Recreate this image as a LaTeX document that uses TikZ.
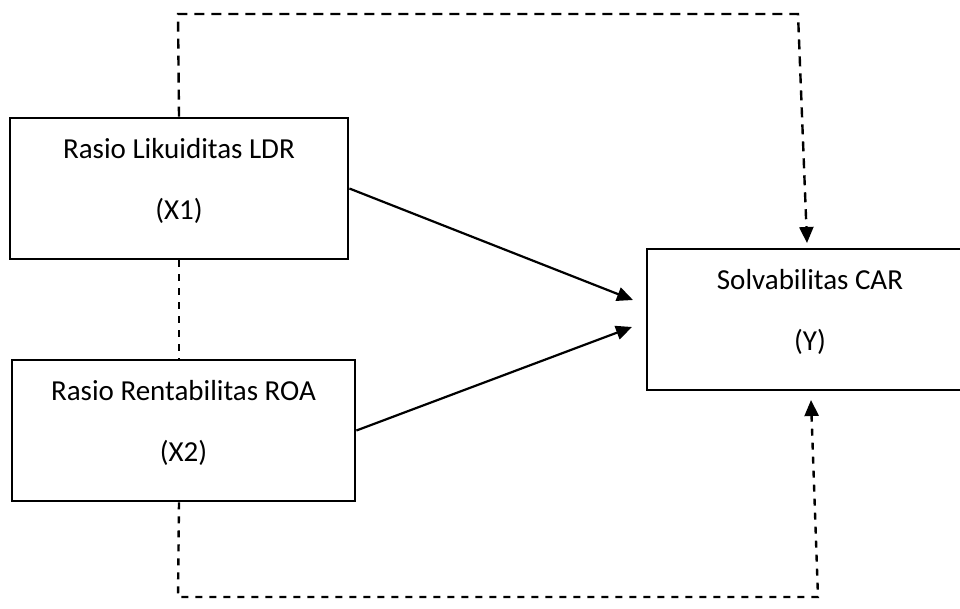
\documentclass[tikz,border=0pt]{standalone}
\usepackage{fontspec}
\setmainfont{Carlito}
\usetikzlibrary{arrows.meta}

\begin{document}
\begin{tikzpicture}[x=1pt,y=-1pt,
	varbox/.style={draw,line width=2.8pt,rectangle,minimum height=141pt,align=center,text depth=19pt,font=\fontsize{29}{61}\selectfont},
	link/.style={line width=2.2pt,-{Triangle[length=16pt,width=14pt]}},
	dashlink/.style={line width=2.4pt,dash pattern=on 10pt off 7pt,-{Triangle[length=16pt,width=14pt]}},
	dashplain/.style={line width=2.4pt,dash pattern=on 7pt off 7pt}]
	\useasboundingbox (0,0) rectangle (960,608);
	\node[varbox,minimum width=338pt] (x1) at (179,188.5) {Rasio Likuiditas LDR\\(X1)};
	\node[varbox,minimum width=343pt] (x2) at (183.5,430.5) {Rasio Rentabilitas ROA\\(X2)};
	\node[varbox,minimum width=326pt] (y) at (810,319.5) {Solvabilitas CAR\\(Y)};
	\coordinate (t1) at (633,300);
	\coordinate (t2) at (632,327);
	\coordinate (a1) at (178,14);
	\coordinate (a2) at (798,14);
	\coordinate (ta) at (807,243);
	\coordinate (b1) at (178,597);
	\coordinate (b2) at (818,597);
	\coordinate (tb) at (811,400);
	\draw[link] (x1.east) -- (t1);
	\draw[link] (x2.east) -- (t2);
	\draw[dashlink] (x1.north) -- (a1) -- (a2) -- (ta);
	\draw[dashplain] (x1.south) -- (x1.south |- x2.north);
	\draw[dashlink,dash pattern=on 7pt off 7pt] (x1.south |- x2.south) -- (b1) -- (b2) -- (tb);
\end{tikzpicture}
\end{document}
